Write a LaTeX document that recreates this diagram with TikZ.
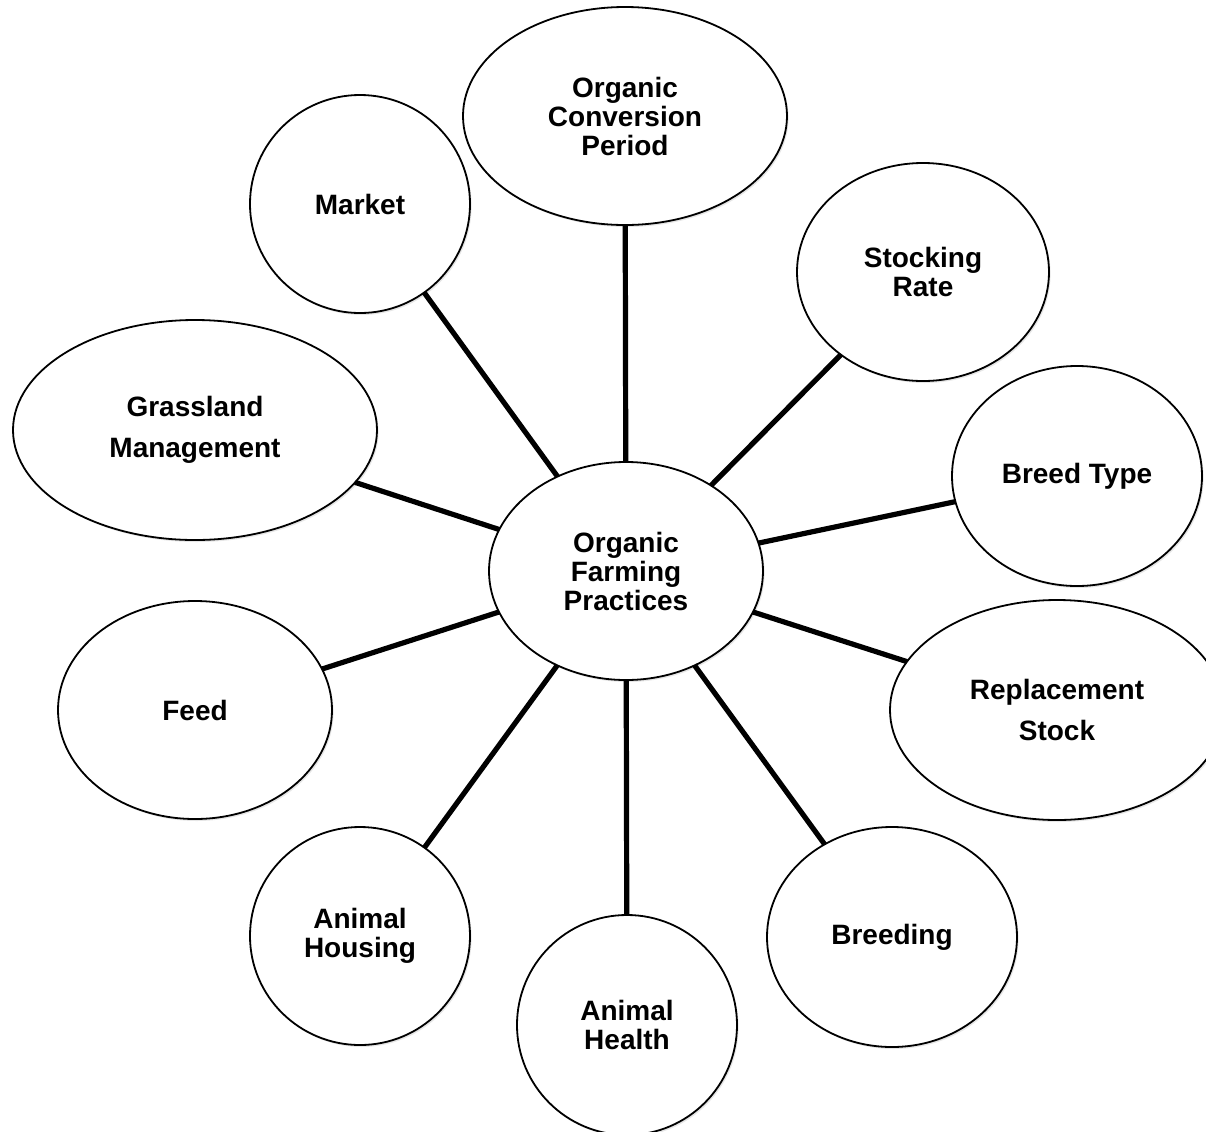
\documentclass[tikz,border=0pt]{standalone}
\usepackage{fontspec}
\setmainfont{Liberation Sans}
\usetikzlibrary{shapes,shadows,positioning}
\def\Ctr{Organic\\Farming\\Practices}

\begin{document}
\begin{tikzpicture}[% styles applied to all, coordinates in pixels of the sketch
		x=0.5pt,y=-0.5pt,
		every node/.style={
			ellipse,draw=black,line width=0.9pt,fill=white,
			align=center,		% use this so that the "\\" for line break works
			inner sep=0pt,outer sep=0pt,
			font=\fontsize{14}{14.5}\selectfont\bfseries,
			drop shadow={shadow xshift=0.8pt,shadow yshift=-1pt,opacity=0.2}
		},
		every edge/.style={draw,line width=2.6pt}
	]
	\useasboundingbox (0,0) rectangle (1206,1131);
	\node[minimum width=137pt,minimum height=109pt](R1) at (626,571){\Ctr};
	\node[minimum width=162pt,minimum height=109pt](R2) at (625,116){Organic\\Conversion\\Period};
	\node[minimum width=110pt,minimum height=109pt](R3) at (360,204){Market};
	\node[minimum width=126pt,minimum height=109pt](R4) at (923,272){Stocking\\Rate};
	\node[minimum width=182pt,minimum height=110pt](R5) at (195,430){Grassland\\[6pt]Management};
	\node[minimum width=125pt,minimum height=110pt](R6) at (1077,476){Breed Type};
	\node[minimum width=137pt,minimum height=109pt](R7) at (195,710){Feed};
	\node[minimum width=167pt,minimum height=110pt](R8) at (1057,710){Replacement\\[6pt]Stock};
	\node[minimum width=110pt,minimum height=109pt](R9) at (360,936){Animal\\Housing};
	\node[minimum width=110pt,minimum height=110pt](R10) at (627,1025){Animal\\Health};
	\node[minimum width=125pt,minimum height=110pt](R11) at (892,937){Breeding};
	\path
	(R1)edge (R2)
	(R1)edge (R3)
	(R1)edge (R4)
	(R1)edge (R5)
	(R1)edge (R6)
	(R1)edge (R7)
	(R1)edge (R8)
	(R1)edge (R9)
	(R1)edge (R10)
	(R1)edge (R11)
	;
\end{tikzpicture}
\end{document}
